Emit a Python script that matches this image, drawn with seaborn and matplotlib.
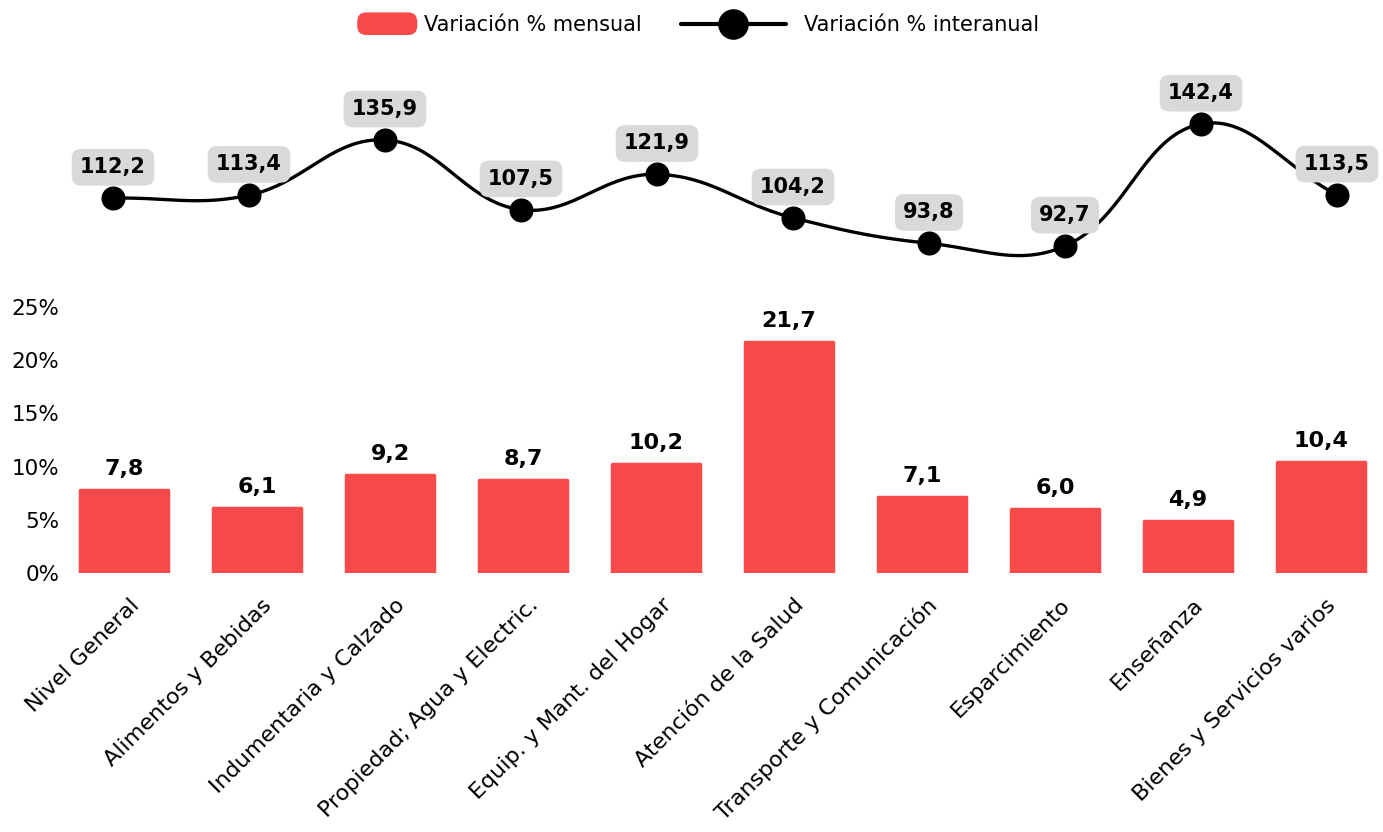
import numpy as np
import pandas as pd
import seaborn as sns
import matplotlib.pyplot as plt
import matplotlib.transforms as mtransforms
from matplotlib.lines import Line2D
from matplotlib.patches import Patch, FancyBboxPatch
from matplotlib.legend_handler import HandlerPatch

# datos
categorias = ['Nivel General', 'Alimentos y Bebidas', 'Indumentaria y Calzado',
              'Propiedad; Agua y Electric.', 'Equip. y Mant. del Hogar',
              'Atención de la Salud', 'Transporte y Comunicación', 'Esparcimiento',
              'Enseñanza', 'Bienes y Servicios varios']
var_mensual = [7.8, 6.1, 9.2, 8.7, 10.2, 21.7, 7.1, 6.0, 4.9, 10.4]
var_interanual = [112.2, 113.4, 135.9, 107.5, 121.9, 104.2, 93.8, 92.7, 142.4, 113.5]
y_ticks = [0, 5, 10, 15, 20, 25]

rojo = '#F94A4A'
gris = '#D9D9D9'

df = pd.DataFrame({'categoria': categorias, 'mensual': var_mensual, 'interanual': var_interanual})

sns.set_style('white')
plt.rcParams['font.family'] = ['DejaVu Sans']
plt.rcParams['text.color'] = 'black'
plt.rcParams['xtick.color'] = 'black'
plt.rcParams['ytick.color'] = 'black'


def fmt(v):
    return f'{v:.1f}'.replace('.', ',')


def curva_suave(ax, xs, ys, t=0.4, n=40):
    # spline tipo chart.js (tension 0.4) calculada en pixeles
    pts = ax.transData.transform(np.column_stack([xs, ys]))
    m = len(pts)
    cprev = np.zeros_like(pts)
    cnext = np.zeros_like(pts)
    for i in range(m):
        prev = pts[max(i - 1, 0)]
        cur = pts[i]
        nxt = pts[min(i + 1, m - 1)]
        d01 = np.hypot(*(cur - prev))
        d12 = np.hypot(*(nxt - cur))
        s = d01 + d12
        cprev[i] = cur - t * d01 / s * (nxt - prev)
        cnext[i] = cur + t * d12 / s * (nxt - prev)
    u = np.linspace(0, 1, n)[:, None]
    out = []
    for i in range(m - 1):
        p0, p1, p2, p3 = pts[i], cnext[i], cprev[i + 1], pts[i + 1]
        seg = (1 - u) ** 3 * p0 + 3 * (1 - u) ** 2 * u * p1 + 3 * (1 - u) * u ** 2 * p2 + u ** 3 * p3
        out.append(seg if i == 0 else seg[1:])
    return ax.transData.inverted().transform(np.vstack(out))


W, H = 1383, 832
fig = plt.figure(figsize=(W / 100, H / 100), dpi=100)
left_px, right_px, top_px, bot_px = 65, 1383, 60, 573
rect = [left_px / W, 1 - bot_px / H, (right_px - left_px) / W, (bot_px - top_px) / H]

# barras
ax = fig.add_axes(rect)
sns.barplot(data=df, x='categoria', y='mensual', color=rojo, saturation=1, width=0.66, ax=ax)
for p in ax.patches:
    p.set_edgecolor(rojo)
    p.set_linewidth(2.5)
    p.set_joinstyle('round')
ax.set_xlim(-(124 - left_px) / 133, 9 + (right_px - 1321) / 133)
ax.set_ylim(0, (bot_px - top_px) / 10.64)
ax.set_yticks(y_ticks)
ax.set_yticklabels([f'{v}%' for v in y_ticks], fontsize=15.5)
ax.set_xlabel('')
ax.set_ylabel('')
ax.tick_params(axis='both', length=0)
ax.tick_params(axis='y', pad=4)
off = mtransforms.ScaledTranslation(12 / 100, -24 / 100, fig.dpi_scale_trans)
for lbl in ax.get_xticklabels():
    lbl.set_rotation(45)
    lbl.set_ha('right')
    lbl.set_va('center')
    lbl.set_rotation_mode('anchor')
    lbl.set_fontsize(16)
    lbl.set_transform(lbl.get_transform() + off)
sns.despine(ax=ax, left=True, bottom=True)

for i, v in enumerate(var_mensual):
    ax.annotate(fmt(v), (i, v), xytext=(0, 8), textcoords='offset points',
                ha='center', va='bottom', fontsize=16, fontweight='bold', color='black')

# linea interanual
ax2 = fig.add_axes(rect)
ax2.patch.set_alpha(0)
ax2.set_xlim(-(113 - left_px) / 136, 9 + (right_px - 1337) / 136)
ax2.set_ylim(92.7 - (bot_px - 246) / 2.4547, 142.4 + (124 - top_px) / 2.4547)
xs = np.arange(len(var_interanual))
curva = curva_suave(ax2, xs, var_interanual)
ax2.plot(curva[:, 0], curva[:, 1], color='black', lw=2.4, zorder=2)
sns.scatterplot(x=xs, y=var_interanual, s=300, color='black', edgecolor='black', linewidth=0, zorder=3, ax=ax2, legend=False)
for x, v in zip(xs, var_interanual):
    ax2.annotate(fmt(v), (x, v), xytext=(0, 15), textcoords='offset points',
                 ha='center', va='bottom', fontsize=15, fontweight='bold', color='black', zorder=5,
                 bbox=dict(boxstyle='round,pad=0.4,rounding_size=0.45', fc=gris, ec='none'))
ax2.axis('off')


# leyenda
def parche_redondo(legend, orig_handle, xdescent, ydescent, width, height, fontsize):
    w = width * 0.57
    h = height * 1.55
    return FancyBboxPatch((width - w + 0.105 * width - xdescent, -ydescent - (h - height) / 2), w, h,
                          boxstyle=f'round,pad=0,rounding_size={h * 0.4}')


handles = [Patch(facecolor=rojo, edgecolor='none'),
           Line2D([0], [0], color='black', lw=3, marker='o', markersize=21)]
fig.legend(handles, ['Variación % mensual', 'Variación % interanual'],
           loc='center', bbox_to_anchor=(670 / W, 1 - 25 / H), ncol=2, frameon=False,
           fontsize=15, handlelength=5.05, handletextpad=0.87, columnspacing=1.85,
           handler_map={Patch: HandlerPatch(patch_func=parche_redondo)})

plt.savefig('out.png', dpi=100)
